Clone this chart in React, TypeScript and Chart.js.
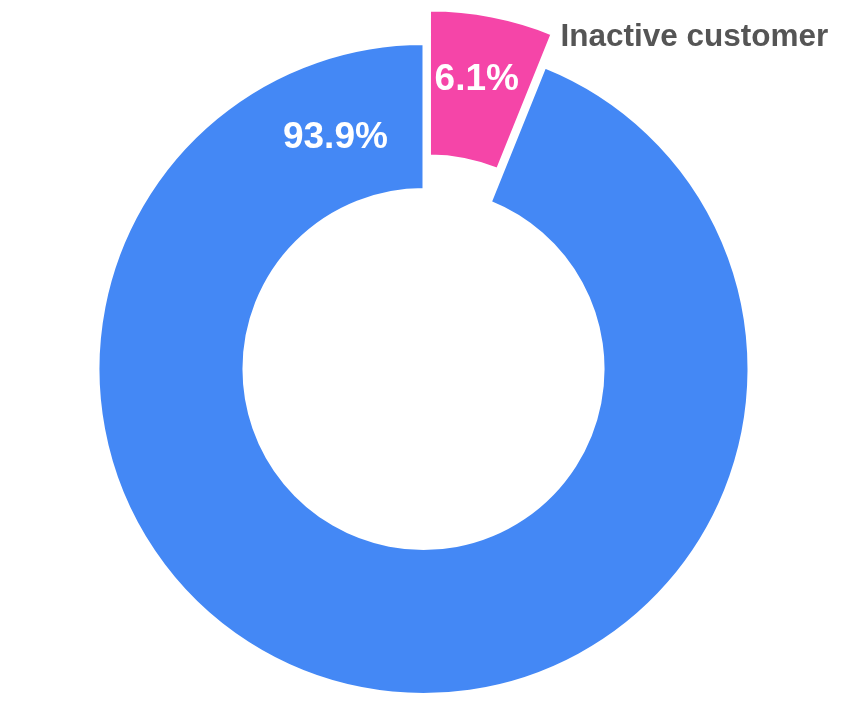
import React, { useEffect, useRef } from 'react';
import { Chart, registerables, ArcElement } from 'chart.js';

Chart.register(...registerables);

const categories = ['Inactive customer', 'Active customer'];
const values = [6.1, 93.9];
const colors = ['#f545a8', '#4488f5'];
const showName = [true, false];

// label placement: fraction along the arc (from start), fraction across ring
const labelAngleFrac = [0.47, 0.9385];
const labelRingFrac = [0.56, 0.47];
const explode = [34, 0];

const sliceLabels = {
  id: 'sliceLabels',
  beforeDatasetsDraw(chart: any) {
    const meta = chart.getDatasetMeta(0);
    meta.data.forEach((el: any, i: number) => {
      if (el.__patched) return;
      el.__patched = true;
      const shift = explode[i] || 0;
      el.draw = function (ctx: CanvasRenderingContext2D, area: any) {
        const mid = (this.startAngle + this.endAngle) / 2;
        ctx.save();
        ctx.translate(Math.cos(mid) * shift, Math.sin(mid) * shift);
        ArcElement.prototype.draw.call(this, ctx, area);
        ctx.restore();
      };
    });
  },
  afterDatasetsDraw(chart: any) {
    const ctx: CanvasRenderingContext2D = chart.ctx;
    const meta = chart.getDatasetMeta(0);
    meta.data.forEach((el: any, i: number) => {
      const { x, y, startAngle, endAngle, innerRadius, outerRadius } = el;
      const mid = (startAngle + endAngle) / 2;
      const shift = explode[i] || 0;
      const cx = x + Math.cos(mid) * shift;
      const cy = y + Math.sin(mid) * shift;
      const a = startAngle + (endAngle - startAngle) * labelAngleFrac[i];
      const r = innerRadius + (outerRadius - innerRadius) * labelRingFrac[i];
      ctx.save();
      ctx.fillStyle = '#ffffff';
      ctx.font = 'bold 37px "Liberation Sans", Arial, sans-serif';
      ctx.textAlign = 'center';
      ctx.textBaseline = 'middle';
      ctx.fillText(values[i].toFixed(1) + '%', cx + Math.cos(a) * r, cy + Math.sin(a) * r + 1);
      if (showName[i]) {
        const ex = cx + Math.cos(endAngle) * outerRadius;
        const ey = cy + Math.sin(endAngle) * outerRadius;
        ctx.fillStyle = '#555555';
        ctx.font = 'bold 31.5px "Liberation Sans", Arial, sans-serif';
        ctx.textAlign = 'left';
        ctx.textBaseline = 'middle';
        ctx.fillText(categories[i], ex + 9, ey + 3);
      }
      ctx.restore();
    });
  },
};

export default function App() {
  const ref = useRef<HTMLCanvasElement>(null);
  useEffect(() => {
    if (!ref.current) return;
    const chart = new Chart(ref.current, {
      type: 'doughnut',
      data: {
        labels: categories,
        datasets: [
          {
            data: values,
            backgroundColor: colors,
            borderColor: '#ffffff',
            borderWidth: 2,
            hoverOffset: 0,
          },
        ],
      },
      options: {
        animation: false,
        responsive: true,
        maintainAspectRatio: false,
        radius: 325,
        cutout: '55.4%',
        layout: { padding: { top: 32, left: 4, right: 0, bottom: 0 } },
        plugins: {
          legend: { display: false },
          tooltip: { enabled: false },
        },
      } as any,
      plugins: [sliceLabels as any],
    });
    return () => chart.destroy();
  }, []);
  return (
    <div style={{ width: 827, height: 690, position: 'relative' }}>
      <canvas ref={ref} />
    </div>
  );
}
